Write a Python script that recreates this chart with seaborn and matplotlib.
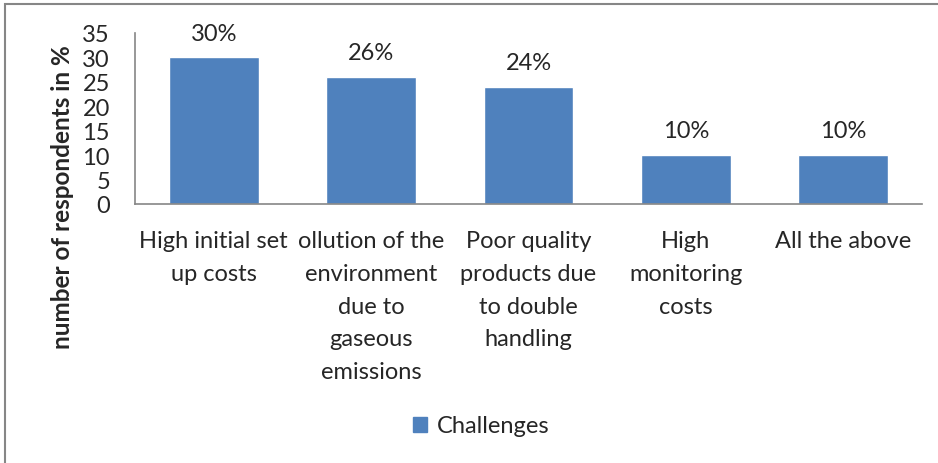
import matplotlib
matplotlib.use("Agg")
import matplotlib.pyplot as plt
import seaborn as sns
import pandas as pd
from matplotlib.patches import Rectangle

# data
categories = ["High initial set\nup costs",
              "ollution of the\nenvironment\ndue to\ngaseous\nemissions",
              "Poor quality\nproducts due\nto double\nhandling",
              "High\nmonitoring\ncosts",
              "All the above"]
values = [30, 26, 24, 10, 10]
series_name = "Challenges"
yticks = [0, 5, 10, 15, 20, 25, 30, 35]

df = pd.DataFrame({"cat": categories, "val": values, "series": [series_name] * len(values)})

sns.set_style("white")
plt.rcParams["font.family"] = ["Lato", "DejaVu Sans"]

fig = plt.figure(figsize=(9.38, 4.64), dpi=100)
ax = fig.add_axes([135 / 938, 1 - 205 / 464, 787 / 938, 171 / 464])

sns.barplot(data=df, x="cat", y="val", hue="series", palette=["#4F81BD"],
            saturation=1, width=0.57, ax=ax, legend=False)

ax.set_ylim(0, 35)
ax.set_yticks(yticks)
ax.set_xlim(-0.5, len(values) - 0.5)
ax.set_xlabel("")
ax.set_ylabel("")
ax.tick_params(axis="y", length=0, pad=18, labelsize=17)
ax.tick_params(axis="x", length=0, pad=19, labelsize=17)
for t in ax.get_xticklabels():
    t.set_linespacing(1.68)
    t.set_verticalalignment("top")

for s in ["top", "right"]:
    ax.spines[s].set_visible(False)
for s in ["left", "bottom"]:
    ax.spines[s].set_color("#868686")
    ax.spines[s].set_linewidth(1.2)

for i, v in enumerate(values):
    ax.annotate(f"{v}%", (i, v), xytext=(0, 10), textcoords="offset points",
                ha="center", va="bottom", fontsize=17)

fig.text(63 / 938, 1 - 197 / 464, "number of respondents in %", rotation=90,
         ha="center", va="center", fontsize=17.5, fontweight="bold")

handle = Rectangle((0, 0), 1, 1, color="#4F81BD")
fig.legend([handle], [series_name], loc="center", bbox_to_anchor=(481 / 938, 1 - 427 / 464),
           frameon=False, fontsize=17, handlelength=0.6, handleheight=0.6, handletextpad=0.4)

# outer chart border (cropped on right and bottom in the reference)
fig.patches.append(Rectangle((5 / 938, -0.1), 1.2, 1 - 5 / 464 + 0.1, transform=fig.transFigure,
                             fill=False, edgecolor="#868686", linewidth=1.5))

fig.savefig("out.png", dpi=100)
